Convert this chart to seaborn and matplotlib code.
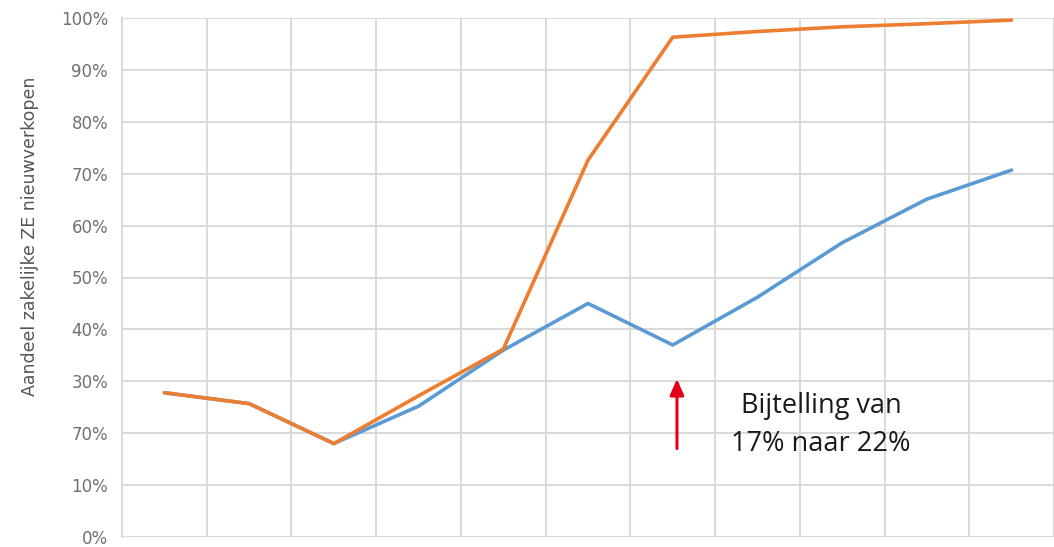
import pandas as pd
import numpy as np
import matplotlib.pyplot as plt
import seaborn as sns

# periods along the (unlabelled) category axis
periods = list(range(1, 12))

# share of business ZE new sales, per scenario
blue_share = [0.278, 0.257, 0.180, 0.252, 0.360, 0.450, 0.370, 0.462, 0.567, 0.651, 0.707]
orange_share = [0.278, 0.257, 0.180, 0.272, 0.362, 0.726, 0.963, 0.974, 0.983, 0.989, 0.996]
series_names = ["blauw", "oranje"]

y_ticks = [0.0, 0.1, 0.2, 0.3, 0.4, 0.5, 0.6, 0.7, 0.8, 0.9, 1.0]
# tick labels as printed in the scanned original (the 20% one reads "70%")
y_tick_labels = ["0%", "10%", "70%", "30%", "40%", "50%", "60%", "70%", "80%", "90%", "100%"]

y_label = "Aandeel zakelijke ZE nieuwverkopen"
note_text = "Bijtelling van\n17% naar 22%"
note_period = 7.05     # arrow points at the dip
note_arrow = (0.165, 0.31)

sns.set_theme(style="white")
plt.rcParams['font.family'] = ['DejaVu Sans']

df = pd.DataFrame({
    "periode": periods * 2,
    "aandeel": blue_share + orange_share,
    "reeks": [series_names[0]] * len(periods) + [series_names[1]] * len(periods),
})

fig = plt.figure(figsize=(10.54, 5.47), dpi=100)
ax = fig.add_axes([122 / 1054, 10 / 547, 1 - 122 / 1054, 519 / 547])

sns.lineplot(data=df, x="periode", y="aandeel", hue="reeks", hue_order=series_names,
             palette=["#5B9BD5", "#ED7D31"], linewidth=2.6, legend=False, ax=ax,
             solid_capstyle="round", solid_joinstyle="round")

ax.set_xlim(periods[0] - 0.5, periods[0] - 0.5 + 932 / 85.4)
ax.set_ylim(0, 1.0)

ax.set_xticks(np.arange(periods[0] - 0.5, periods[-1] + 1.5, 1.0), minor=True)
ax.set_xticks([])
ax.set_yticks(y_ticks)
ax.set_yticklabels(y_tick_labels)
ax.tick_params(axis='y', length=0, pad=10, labelsize=12, labelcolor="#707070")
ax.tick_params(axis='x', which='both', length=0)

ax.grid(True, axis='y', which='major', color="#d9d9d9", linewidth=1.4)
ax.grid(True, axis='x', which='minor', color="#d9d9d9", linewidth=1.4)
ax.set_axisbelow(True)
for side in ["top", "right", "bottom"]:
    ax.spines[side].set_visible(False)
ax.spines["left"].set_color("#d9d9d9")
ax.spines["left"].set_linewidth(1.4)

ax.set_xlabel("")
ax.set_ylabel(y_label, fontsize=12.5, color="#555555")
ax.yaxis.set_label_coords(-0.089, 0.58)

ax.annotate("", xy=(note_period, note_arrow[1]), xytext=(note_period, note_arrow[0]),
            arrowprops=dict(arrowstyle="-|>,head_width=0.35,head_length=0.8",
                            color="#e3001b", lw=2.2))
ax.text(8.75, 0.216, note_text, ha="center", va="center",
        fontsize=19.5, family=["Open Sans", "DejaVu Sans"], color="#1a1a1a",
        linespacing=1.5)

fig.savefig("out.png", dpi=100)
